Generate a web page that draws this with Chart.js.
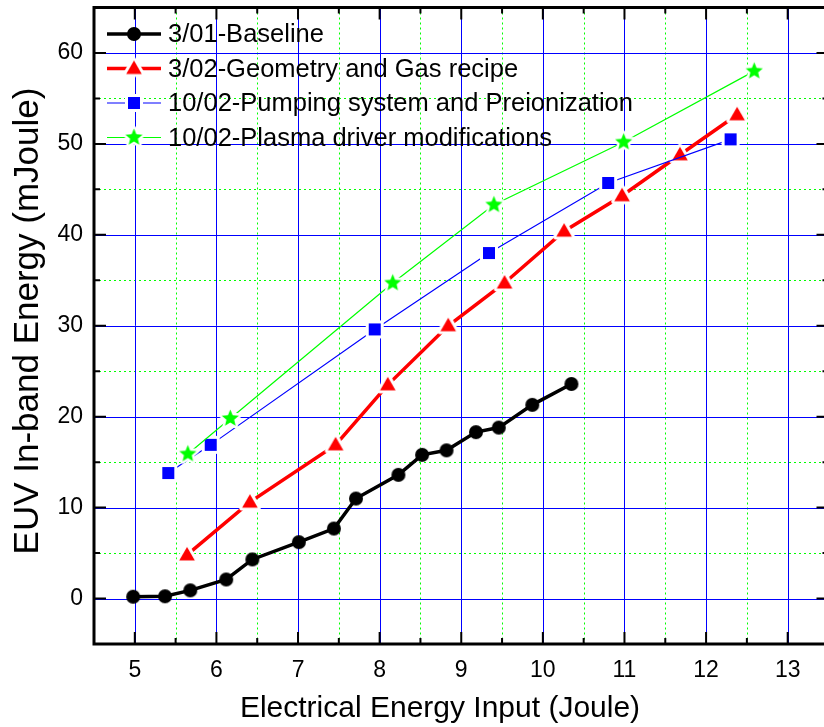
<!DOCTYPE html>
<html>
<head>
<meta charset="utf-8">
<title>EUV In-band Energy</title>
<script src="https://cdn.jsdelivr.net/npm/chart.js@4.4.0/dist/chart.umd.min.js"></script>
<style>
  html, body { margin: 0; padding: 0; background: #fff; overflow: hidden; }
  canvas { display: block; margin-top: -4px; }
</style>
</head>
<body>
<canvas id="euv-chart" width="840" height="731"></canvas>
<script>
/* ─── Data ───────────────────────────────────────────────────────────────── */
const seriesNames = [
  '3/01-Baseline',
  '3/02-Geometry and Gas recipe',
  '10/02-Pumping system and Preionization',
  '10/02-Plasma driver modifications'
];

const baselineX = [4.98, 5.37, 5.68, 6.12, 6.44, 7.01, 7.44, 7.71, 8.23, 8.52, 8.82, 9.18, 9.46, 9.87, 10.35];
const baselineY = [0.2, 0.25, 0.9, 2.1, 4.3, 6.2, 7.7, 11.0, 13.6, 15.8, 16.3, 18.3, 18.8, 21.3, 23.6];

const geometryX = [5.64, 6.41, 7.46, 8.10, 8.84, 9.53, 10.26, 10.97, 11.68, 12.38];
const geometryY = [4.8, 10.6, 16.9, 23.5, 30.0, 34.7, 40.4, 44.3, 48.8, 53.2];

const pumpingX = [5.41, 5.93, 7.94, 9.34, 10.80, 12.30];
const pumpingY = [13.8, 16.9, 29.6, 38.0, 45.7, 50.5];

const plasmaX = [5.65, 6.17, 8.16, 9.40, 10.99, 12.59];
const plasmaY = [15.9, 19.8, 34.7, 43.3, 50.2, 58.0];

const xTickValues = [5, 6, 7, 8, 9, 10, 11, 12, 13];
const xMinorValues = [5.5, 6.5, 7.5, 8.5, 9.5, 10.5, 11.5, 12.5];
const yTickValues = [0, 10, 20, 30, 40, 50, 60];
const yMinorValues = [5, 15, 25, 35, 45, 55];

/* ─── Helpers ────────────────────────────────────────────────────────────── */
const FONT = '"Liberation Sans", Arial, Helvetica, sans-serif';
const SHIFT = 4; // canvas is pulled up by this much in the CSS
const toPoints = (xs, ys) => xs.map((x, i) => ({ x, y: ys[i] }));

// marker image with a white halo, so the lines stop short of the symbol
function makeMarker(shape, color, R, halo) {
  const size = Math.ceil(2 * (R + halo) + 2);
  const cv = document.createElement('canvas');
  cv.width = cv.height = size;
  const g = cv.getContext('2d');
  const c = size / 2;
  g.beginPath();
  if (shape === 'triangle') {
    for (let i = 0; i < 3; i++) {
      const a = i * 2 * Math.PI / 3;
      g.lineTo(c + Math.sin(a) * R, c - Math.cos(a) * R + R * 0.12);
    }
  } else if (shape === 'square') {
    g.rect(c - R, c - R, 2 * R, 2 * R);
  } else if (shape === 'star') {
    for (let i = 0; i < 10; i++) {
      const r = i % 2 ? R * 0.45 : R;
      const a = -Math.PI / 2 + i * Math.PI / 5;
      g.lineTo(c + r * Math.cos(a), c + r * Math.sin(a));
    }
  } else {
    g.arc(c, c, R, 0, Math.PI * 2);
  }
  g.closePath();
  if (halo > 0) {
    g.lineJoin = 'round';
    g.lineWidth = 2 * halo;
    g.strokeStyle = '#ffffff';
    g.stroke();
  }
  g.fillStyle = color;
  g.fill();
  return cv;
}

const markers = [
  makeMarker('circle', '#000000', 7, 0),
  makeMarker('triangle', '#ff0000', 9, 3),
  makeMarker('square', '#0000ff', 6, 3),
  makeMarker('star', '#00ff00', 9, 2.5)
];
const lineColors = ['#000000', '#ff0000', '#0000ff', '#00ff00'];
const lineWidths = [3.5, 3.5, 1.2, 1.2];

/* ─── Grid, frame, inward ticks, titles, legend ──────────────────────────── */
const decorPlugin = {
  id: 'decor',
  beforeDatasetsDraw(chart) {
    const { ctx, chartArea: a, scales: { x, y } } = chart;
    ctx.save();
    ctx.lineWidth = 1;

    // minor grid: dotted green
    ctx.strokeStyle = '#00ff00';
    ctx.setLineDash([2, 3]);
    ctx.beginPath();
    xMinorValues.forEach(v => {
      const px = Math.round(x.getPixelForValue(v)) + 0.5;
      ctx.moveTo(px, a.top); ctx.lineTo(px, a.bottom);
    });
    yMinorValues.forEach(v => {
      const py = Math.round(y.getPixelForValue(v)) + 0.5;
      ctx.moveTo(a.left, py); ctx.lineTo(a.right, py);
    });
    ctx.stroke();

    // major grid: solid blue
    ctx.setLineDash([]);
    ctx.strokeStyle = '#0000ff';
    ctx.beginPath();
    xTickValues.forEach(v => {
      const px = Math.round(x.getPixelForValue(v)) + 0.5;
      ctx.moveTo(px, a.top); ctx.lineTo(px, a.bottom);
    });
    yTickValues.forEach(v => {
      const py = Math.round(y.getPixelForValue(v)) + 0.5;
      ctx.moveTo(a.left, py); ctx.lineTo(a.right, py);
    });
    ctx.stroke();
    ctx.restore();
  },
  afterDatasetsDraw(chart) {
    const { ctx, chartArea: a, scales: { x, y } } = chart;
    ctx.save();

    // frame
    ctx.strokeStyle = '#000';
    ctx.lineWidth = 3;
    ctx.strokeRect(a.left, a.top, a.right - a.left, a.bottom - a.top);

    // inward ticks on all four sides
    ctx.lineWidth = 2;
    ctx.beginPath();
    const xt = (vals, len) => vals.forEach(v => {
      const px = x.getPixelForValue(v);
      ctx.moveTo(px, a.bottom); ctx.lineTo(px, a.bottom - len);
      ctx.moveTo(px, a.top); ctx.lineTo(px, a.top + len);
    });
    const yt = (vals, len) => vals.forEach(v => {
      const py = y.getPixelForValue(v);
      ctx.moveTo(a.left, py); ctx.lineTo(a.left + len, py);
      ctx.moveTo(a.right, py); ctx.lineTo(a.right - len, py);
    });
    xt(xTickValues, 12); xt(xMinorValues, 6);
    yt(yTickValues, 12); yt(yMinorValues, 6);
    ctx.stroke();

    // the rest is placed in page coordinates
    ctx.translate(0, SHIFT);

    // axis titles
    ctx.fillStyle = '#000';
    ctx.textAlign = 'center';
    ctx.textBaseline = 'alphabetic';
    ctx.font = `30px ${FONT}`;
    ctx.fillText('Electrical Energy Input (Joule)', 440, 717);
    ctx.save();
    ctx.translate(38, 321);
    ctx.rotate(-Math.PI / 2);
    ctx.font = `35px ${FONT}`;
    ctx.fillText('EUV In-band Energy (mJoule)', 0, 0);
    ctx.restore();

    // legend inside the plot, top-left
    const rowY = [34, 68.5, 103, 137.5];
    chart.data.datasets.forEach((ds, i) => {
      const yy = rowY[i];
      ctx.strokeStyle = ds.borderColor;
      ctx.lineWidth = ds.borderWidth;
      ctx.beginPath();
      ctx.moveTo(107, yy); ctx.lineTo(161, yy);
      ctx.stroke();
      const img = ds.pointStyle;
      ctx.drawImage(img, 134 - img.width / 2, yy - img.height / 2);
      ctx.fillStyle = '#000';
      ctx.textAlign = 'left';
      ctx.textBaseline = 'middle';
      ctx.font = `25.5px ${FONT}`;
      ctx.fillText(ds.label, 168, yy + 1);
    });
    ctx.restore();
  }
};

/* ─── Chart ──────────────────────────────────────────────────────────────── */
const seriesData = [
  toPoints(baselineX, baselineY),
  toPoints(geometryX, geometryY),
  toPoints(pumpingX, pumpingY),
  toPoints(plasmaX, plasmaY)
];

new Chart(document.getElementById('euv-chart'), {
  type: 'line',
  data: {
    datasets: seriesData.map((data, i) => ({
      label: seriesNames[i],
      data,
      borderColor: lineColors[i],
      backgroundColor: lineColors[i],
      borderWidth: lineWidths[i],
      pointStyle: markers[i],
      pointRadius: 8,
      tension: 0,
      fill: false,
      order: 3 - i
    }))
  },
  options: {
    responsive: false,
    animation: false,
    events: [],
    layout: { padding: { top: 7, right: 11, left: 0, bottom: 0 } },
    plugins: { legend: { display: false }, tooltip: { enabled: false } },
    scales: {
      x: {
        type: 'linear',
        min: 4.5,
        max: 13.5,
        grid: { display: false, drawTicks: false },
        border: { display: false },
        afterBuildTicks: s => { s.ticks = xTickValues.map(value => ({ value })); },
        afterFit: s => { s.height = 83; },
        ticks: {
          color: '#000',
          padding: 13,
          maxRotation: 0,
          autoSkip: false,
          font: { family: FONT, size: 23 },
          callback: v => String(v)
        }
      },
      y: {
        type: 'linear',
        min: -5,
        max: 65,
        grid: { display: false, drawTicks: false },
        border: { display: false },
        afterBuildTicks: s => { s.ticks = yTickValues.map(value => ({ value })); },
        afterFit: s => { s.width = 94; s.paddingTop = 0; s.paddingBottom = 0; },
        ticks: {
          color: '#000',
          padding: 11,
          autoSkip: false,
          font: { family: FONT, size: 23, lineHeight: 0.5 },
          callback: v => String(v)
        }
      }
    }
  },
  plugins: [decorPlugin]
});
</script>
</body>
</html>
